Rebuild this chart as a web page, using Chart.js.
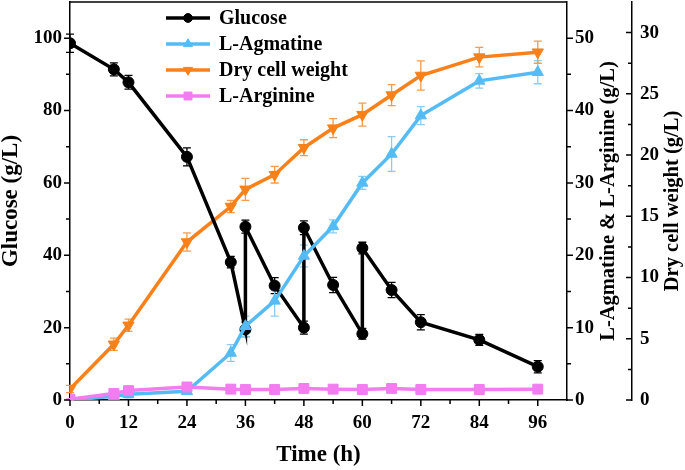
<!DOCTYPE html>
<html>
<head>
<meta charset="utf-8">
<script src="https://cdn.jsdelivr.net/npm/chart.js@4"></script>
<style>
html, body { margin: 0; padding: 0; background: #fff; }
</style>
</head>
<body>
<canvas id="chart" width="685" height="470"></canvas>
<script>
const FONT = "'Liberation Serif', 'Times New Roman', serif";

// tick labels and minor ticks
const xTicks = [0, 12, 24, 36, 48, 60, 72, 84, 96];
const xMinor = [6, 18, 30, 42, 54, 66, 78, 90];
const glucoseTicks = [0, 20, 40, 60, 80, 100];
const glucoseMinor = [10, 30, 50, 70, 90];
const productTicks = [0, 10, 20, 30, 40, 50];
const productMinor = [5, 15, 25, 35, 45];
const dcwTicks = [0, 5, 10, 15, 20, 25, 30];
const dcwMinor = [2.5, 7.5, 12.5, 17.5, 22.5, 27.5];

// glucose (fed-batch, vertical jumps at feeding times)
const glucoseTime = [0, 9, 12, 24, 33, 36, 36, 42, 48, 48, 54, 60, 60, 66, 72, 84, 96];
const glucose =    [98.6, 91.4, 87.8, 67.2, 38.1, 19.5, 47.9, 31.6, 20.0, 47.6, 31.8, 18.3, 42.0, 30.4, 21.5, 16.6, 9.2];
const glucoseErr = [2.5, 1.8, 1.9, 2.5, 1.6, 2.0, 1.8, 2.2, 1.8, 1.9, 2.1, 1.5, 1.6, 2.1, 2.1, 1.5, 1.7];

// products and biomass
const time =        [0, 9, 12, 24, 33, 36, 42, 48, 54, 60, 66, 72, 84, 96];
const agmatine =    [0, 0.5, 0.8, 1.2, 6.5, 10.2, 13.7, 19.9, 24.0, 30.0, 34.0, 39.3, 44.1, 45.3];
const agmatineErr = [0, 0.3, 0.5, 0.3, 1.15, 1.4, 2.1, 1.5, 0.9, 0.9, 2.4, 1.25, 1.0, 1.6];
const dcw =         [0.9, 4.55, 6.1, 12.9, 15.8, 17.2, 18.4, 20.6, 22.2, 23.3, 24.9, 26.5, 28.0, 28.4];
const dcwErr =      [0.3, 0.5, 0.5, 0.75, 0.5, 0.9, 0.68, 0.65, 0.78, 0.94, 0.86, 1.2, 0.8, 0.9];
const arginine =    [0.1, 0.9, 1.3, 1.8, 1.5, 1.45, 1.45, 1.6, 1.5, 1.45, 1.6, 1.45, 1.45, 1.5];
const arginineErr = [0.1, 0.3, 0.3, 0.3, 0.3, 0.3, 0.4, 0.3, 0.3, 0.3, 0.3, 0.2, 0.2, 0.2];

const pts = (xs, ys) => xs.map((x, i) => ({ x: x, y: ys[i] }));

function series(label, data, err, color, errColor, axis, style, rot, radius, order) {
  return {
    label: label, data: data, errors: err, errColor: errColor, yAxisID: axis,
    borderColor: color, backgroundColor: color, borderWidth: 3.5,
    pointStyle: style, rotation: rot, pointRadius: radius,
    pointBackgroundColor: color, pointBorderColor: color, pointBorderWidth: 1,
    tension: 0, order: order
  };
}

const datasets = [
  series('Glucose', pts(glucoseTime, glucose), glucoseErr, '#000000', '#000000', 'y', 'circle', 0, 5.5, 0),
  series('L-Agmatine', pts(time, agmatine), agmatineErr, '#55BBF5', '#86CEF6', 'y1', 'triangle', 0, 6.5, -1),
  series('Dry cell weight', pts(time, dcw), dcwErr, '#FA8019', '#FA9A4A', 'y2', 'triangle', 180, 6.5, 0),
  series('L-Arginine', pts(time, arginine), arginineErr, '#F27CF0', '#F59CF3', 'y1', 'rect', 0, 7, -2)
];

function fixTicks(list) {
  return function (scale) { scale.ticks = list.map(v => ({ value: v })); };
}

// force box sizes and drop the label overhang padding chart.js reserves
function fitBox(w, h) {
  return function (s) {
    if (w) s.width = w;
    if (h) s.height = h;
    s.paddingTop = 0; s.paddingBottom = 0; s.paddingLeft = 0; s.paddingRight = 0;
  };
}

const tickFont = { family: FONT, size: 19, weight: 'bold' };
const noGrid = { display: false, drawTicks: false };
const axisLine = { display: true, color: '#000', width: 1.5 };

const decor = {
  id: 'decor',
  beforeDatasetsDraw(chart) {
    const ctx = chart.ctx;
    chart.data.datasets.forEach((ds, di) => {
      const meta = chart.getDatasetMeta(di);
      const ys = chart.scales[ds.yAxisID];
      ctx.save();
      ctx.strokeStyle = ds.errColor;
      ctx.lineWidth = 1.3;
      meta.data.forEach((pt, i) => {
        const e = ds.errors[i];
        if (!e) return;
        const v = ds.data[i].y;
        const t = ys.getPixelForValue(v + e);
        const b = ys.getPixelForValue(v - e);
        ctx.beginPath();
        ctx.moveTo(pt.x, t); ctx.lineTo(pt.x, b);
        ctx.moveTo(pt.x - 4, t); ctx.lineTo(pt.x + 4, t);
        ctx.moveTo(pt.x - 4, b); ctx.lineTo(pt.x + 4, b);
        ctx.stroke();
      });
      ctx.restore();
    });
  },
  afterDraw(chart) {
    const ctx = chart.ctx;
    const a = chart.chartArea;
    const sx = chart.scales.x, sy = chart.scales.y, s1 = chart.scales.y1, s2 = chart.scales.y2;
    ctx.save();
    ctx.strokeStyle = '#000';
    ctx.lineWidth = 1.5;
    // top frame
    ctx.beginPath();
    ctx.moveTo(a.left, a.top); ctx.lineTo(a.right, a.top);
    ctx.stroke();
    // tick marks
    ctx.beginPath();
    const mark = (vals, len, fn) => vals.forEach(v => fn(v, len));
    const xt = (v, len) => { const p = sx.getPixelForValue(v); ctx.moveTo(p, a.bottom); ctx.lineTo(p, a.bottom + len); };
    const yt = (v, len) => { const p = sy.getPixelForValue(v); ctx.moveTo(a.left, p); ctx.lineTo(a.left - len, p); };
    const y1t = (v, len) => { const p = s1.getPixelForValue(v); ctx.moveTo(a.right, p); ctx.lineTo(a.right + len, p); };
    const y2t = (v, len) => { const p = s2.getPixelForValue(v); ctx.moveTo(s2.left, p); ctx.lineTo(s2.left - len, p); };
    mark(xTicks, 6, xt); mark(xMinor, 4, xt);
    mark(glucoseTicks, 6, yt); mark(glucoseMinor, 4, yt);
    mark(productTicks, 6, y1t); mark(productMinor, 4, y1t);
    mark(dcwTicks, 6, y2t); mark(dcwMinor, 4, y2t);
    ctx.stroke();

    // right axis titles, reading bottom to top
    ctx.fillStyle = '#000';
    ctx.font = 'bold 20.5px ' + FONT;
    ctx.textAlign = 'center';
    ctx.textBaseline = 'middle';
    [['L-Agmatine & L-Arginine (g/L)', 609], ['Dry cell weight (g/L)', 673]].forEach(([txt, x]) => {
      ctx.save();
      ctx.translate(x, (a.top + a.bottom) / 2);
      ctx.rotate(-Math.PI / 2);
      ctx.fillText(txt, 0, 0);
      ctx.restore();
    });

    // legend
    ctx.font = 'bold 20px ' + FONT;
    ctx.textAlign = 'left';
    chart.data.datasets.forEach((ds, i) => {
      const y = 18 + i * 26;
      ctx.strokeStyle = ds.borderColor;
      ctx.fillStyle = ds.borderColor;
      ctx.lineWidth = 3.5;
      ctx.beginPath();
      ctx.moveTo(166, y); ctx.lineTo(210, y);
      ctx.stroke();
      ctx.lineWidth = 1;
      Chart.helpers.drawPoint(ctx, { pointStyle: ds.pointStyle, radius: ds.pointRadius * 0.8, rotation: ds.rotation, borderWidth: 1 }, 188, y);
      ctx.fillStyle = '#000';
      ctx.fillText(ds.label, 219, y + 1);
    });
    ctx.restore();
  }
};

new Chart(document.getElementById('chart'), {
  type: 'line',
  data: { datasets: datasets },
  plugins: [decor],
  options: {
    responsive: false,
    animation: false,
    layout: { autoPadding: false, padding: { top: 2, left: 0, right: 0, bottom: 0 } },
    plugins: { legend: { display: false }, tooltip: { enabled: false } },
    scales: {
      x: {
        type: 'linear', min: 0, max: 102,
        afterBuildTicks: fixTicks(xTicks),
        afterFit: fitBox(0, 70),
        grid: noGrid,
        border: axisLine,
        ticks: { font: tickFont, color: '#000', padding: 12, maxRotation: 0, autoSkip: false },
        title: { display: true, text: 'Time (h)', color: '#000', padding: { top: 0, bottom: 3 },
                 font: { family: FONT, size: 23, weight: 'bold', lineHeight: 1 } }
      },
      y: {
        position: 'left', min: 0, max: 110,
        afterBuildTicks: fixTicks(glucoseTicks),
        afterFit: fitBox(70, 0),
        grid: noGrid,
        border: axisLine,
        ticks: { font: tickFont, color: '#000', padding: 8 },
        title: { display: true, text: 'Glucose (g/L)', color: '#000', padding: { top: 0, bottom: 0 },
                 font: { family: FONT, size: 23, weight: 'bold', lineHeight: 1 } }
      },
      y1: {
        position: 'right', min: 0, max: 55,
        afterBuildTicks: fixTicks(productTicks),
        afterFit: fitBox(65, 0),
        grid: noGrid,
        border: axisLine,
        ticks: { font: tickFont, color: '#000', padding: 8 }
      },
      y2: {
        position: 'right', min: 0, max: 32.5,
        afterBuildTicks: fixTicks(dcwTicks),
        afterFit: fitBox(53, 0),
        grid: noGrid,
        border: axisLine,
        ticks: { font: tickFont, color: '#000', padding: 8 }
      }
    }
  }
});
</script>
</body>
</html>
